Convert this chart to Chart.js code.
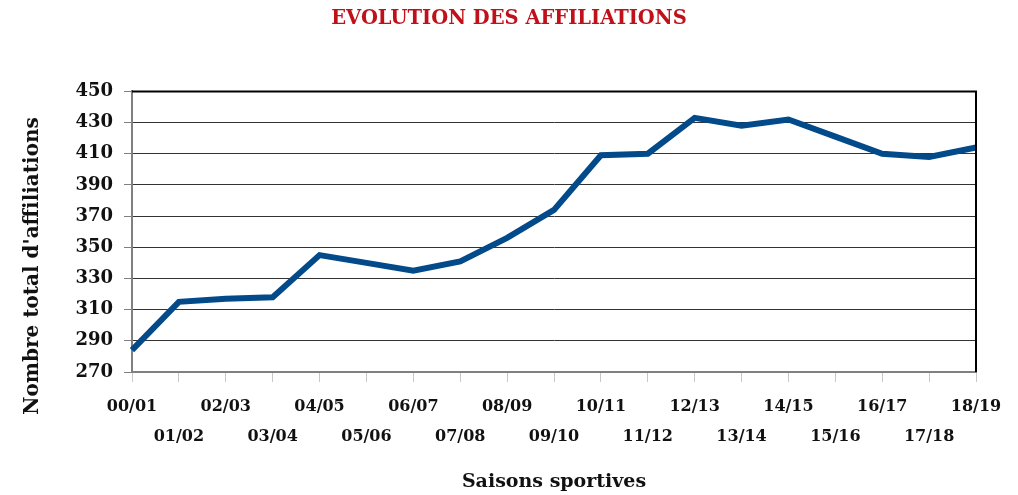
<!DOCTYPE html>
<html>
<head>
<meta charset="utf-8">
<script src="https://cdn.jsdelivr.net/npm/chart.js@4"></script>
<style>
    html, body { margin: 0; padding: 0; background: #fff; }
    #wrap { width: 1018px; height: 495px; position: relative; }
</style>
</head>
<body>
<div id="wrap"><canvas id="affChart"></canvas></div>
<script>
// Data
const seasons = ['00/01', '01/02', '02/03', '03/04', '04/05', '05/06', '06/07', '07/08', '08/09', '09/10',
    '10/11', '11/12', '12/13', '13/14', '14/15', '15/16', '16/17', '17/18', '18/19'];
const affiliations = [284, 315, 317, 318, 345, 340, 335, 341, 356, 374,
    409, 410, 433, 428, 432, 421, 410, 408, 414];
const yTicks = [270, 290, 310, 330, 350, 370, 390, 410, 430, 450];

const serif = "'DejaVu Serif', 'Liberation Serif', serif";

// Black frame on top and right, y axis title drawn by hand
const framePlugin = {
    id: 'frame',
    afterDraw(chart) {
        const { ctx, chartArea } = chart;
        ctx.save();
        ctx.strokeStyle = '#000';
        ctx.lineWidth = 2;
        ctx.beginPath();
        ctx.moveTo(chartArea.left, chartArea.top);
        ctx.lineTo(chartArea.right, chartArea.top);
        ctx.lineTo(chartArea.right, chartArea.bottom);
        ctx.stroke();

        ctx.translate(33, 266);
        ctx.rotate(-Math.PI / 2);
        ctx.fillStyle = '#111';
        ctx.font = 'bold 20px ' + serif;
        ctx.textAlign = 'center';
        ctx.textBaseline = 'middle';
        ctx.fillText("Nombre total d'affiliations", 0, 0);
        ctx.restore();
    }
};

const ctx = document.getElementById('affChart').getContext('2d');
new Chart(ctx, {
    type: 'line',
    data: {
        labels: seasons,
        datasets: [{
            data: affiliations,
            borderColor: '#034a8a',
            borderWidth: 6,
            pointRadius: 0,
            tension: 0,
            fill: false
        }]
    },
    options: {
        responsive: true,
        maintainAspectRatio: false,
        animation: false,
        layout: { padding: 0 },
        plugins: {
            legend: { display: false },
            tooltip: { enabled: false },
            title: {
                display: true,
                text: 'EVOLUTION DES AFFILIATIONS',
                color: '#c0101a',
                font: { family: serif, size: 19.5, weight: 'bold' },
                padding: { top: 7, bottom: 61 }
            }
        },
        scales: {
            x: {
                offset: false,
                afterFit: axis => { axis.height = 123; },
                grid: {
                    drawOnChartArea: false,
                    drawTicks: true,
                    tickLength: 10,
                    color: '#c8c8c8'
                },
                border: { color: '#808080', width: 2 },
                ticks: {
                    color: '#111',
                    maxRotation: 0,
                    autoSkip: false,
                    padding: 10,
                    font: { family: serif, size: 16, weight: 'bold', lineHeight: '30px' },
                    callback: function(value, index) {
                        const lab = seasons[index];
                        return index % 2 === 0 ? [lab, ''] : ['', lab];
                    }
                },
                title: {
                    display: true,
                    text: 'Saisons sportives',
                    color: '#111',
                    font: { family: serif, size: 19, weight: 'bold' },
                    padding: { top: 18, bottom: 2 }
                }
            },
            y: {
                min: 270,
                max: 450,
                afterFit: axis => { axis.width = 132; },
                afterBuildTicks: axis => { axis.ticks = yTicks.map(v => ({ value: v })); },
                grid: {
                    color: '#333',
                    lineWidth: 1,
                    tickLength: 8,
                    tickColor: '#808080'
                },
                border: { color: '#808080', width: 2 },
                ticks: {
                    color: '#111',
                    padding: 11,
                    font: { family: serif, size: 18, weight: 'bold' }
                }
            },
            // empty right axis, only reserves the right margin
            yRight: {
                position: 'right',
                min: 0,
                max: 1,
                afterFit: axis => { axis.width = 42; },
                grid: { display: false },
                border: { display: false },
                ticks: { display: false }
            }
        }
    },
    plugins: [framePlugin]
});
</script>
</body>
</html>
